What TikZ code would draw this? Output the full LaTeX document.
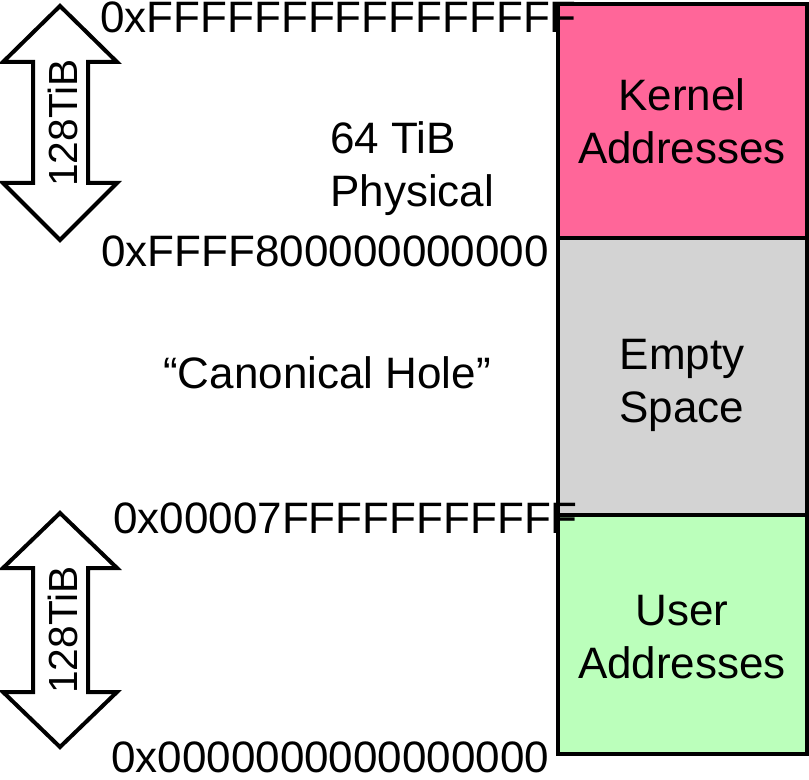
\documentclass[tikz,border=0pt]{standalone}
\usepackage{fontspec}
\setmainfont{Liberation Sans}
\definecolor{kernelpink}{RGB}{255,102,153}
\definecolor{holegray}{RGB}{211,211,211}
\definecolor{usergreen}{RGB}{187,255,187}
\begin{document}
\begin{tikzpicture}[x=0.75pt,y=-0.75pt,
  lbl/.style={inner sep=0pt, font=\fontsize{33}{39.75}\selectfont},
  addr/.style={lbl, anchor=base west},
  seg/.style={draw=black, line width=3pt},
  inbox/.style={lbl, align=center},
  sizearrow/.style={draw=black, line width=3pt, line join=miter, fill=white},
  sizelbl/.style={inner sep=0pt, anchor=base, rotate=90,
    font=\fontsize{30.5}{36}\selectfont}]
\useasboundingbox (0,0) rectangle (809,780);

% address-space segments
\path[seg, fill=kernelpink] (557.5,4) rectangle (807,238.5);
\path[seg, fill=holegray] (557.5,238.5) rectangle (807,515);
\path[seg, fill=usergreen] (557.5,515) rectangle (807,753.5);
\node[inbox] (kernel) at (682,121.5) {Kernel\\Addresses};
\node[inbox] (empty) at (682,385) {Empty\\Space};
\node[inbox] (user) at (682,637.5) {User\\Addresses};

% double-headed size arrows
\path[sizearrow] (60,6) -- (117,62) -- (88,62) -- (88,183) -- (117,183)
  -- (60,240) -- (3,183) -- (33,183) -- (33,62) -- (3,62) -- cycle;
\node[sizelbl] (ksize) at (77,123) {128TiB};
\path[sizearrow] (60,513) -- (117,568) -- (88,568) -- (88,692) -- (117,692)
  -- (60,747) -- (3,692) -- (33,692) -- (33,568) -- (3,568) -- cycle;
\node[sizelbl] (usize) at (77,630) {128TiB};

% boundary addresses
\node[addr] (top) at (100,33) {0xFFFFFFFFFFFFFFFF};
\node[addr] (kbase) at (101,267) {0xFFFF800000000000};
\node[addr] (utop) at (113,533) {0x00007FFFFFFFFFFF};
\node[addr] (zero) at (111,772) {0x0000000000000000};

% annotations (base anchor sits on the last line)
\node[lbl, align=left, anchor=base west] (phys) at (330,207) {64 TiB\\Physical};
\node[addr] (hole) at (163,388) {“Canonical Hole”};
\end{tikzpicture}
\end{document}
